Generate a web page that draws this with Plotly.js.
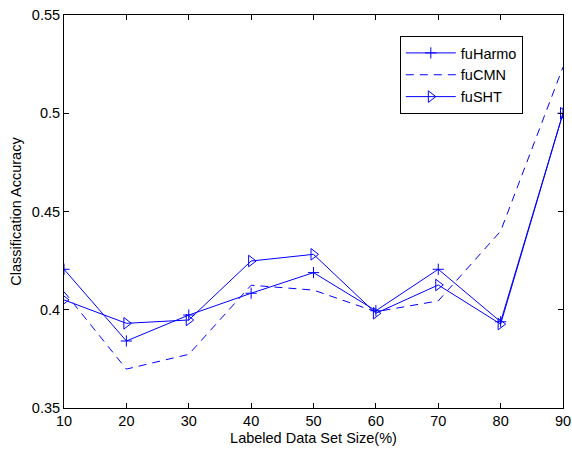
<!DOCTYPE html>
<html><head><meta charset="utf-8">
<script src="https://cdn.plot.ly/plotly-3.0.1.min.js"></script>
<style>html,body{margin:0;padding:0;background:#fff}</style>
</head><body>
<div id="chart" style="width:572px;height:450px"></div>
<script>
const xValues = [10, 20, 30, 40, 50, 60, 70, 80, 90];
const fuHarmo = [0.4206, 0.3841, 0.3973, 0.4084, 0.4189, 0.3995, 0.4206, 0.3939, 0.5000];
const fuCMN   = [0.4092, 0.3698, 0.3773, 0.4125, 0.4100, 0.3990, 0.4045, 0.4400, 0.5235];
const fuSHT   = [0.4050, 0.3931, 0.3948, 0.4248, 0.4282, 0.3982, 0.4126, 0.3927, 0.5000];
const xTicks = [10, 20, 30, 40, 50, 60, 70, 80, 90];
const yTicks = [0.35, 0.4, 0.45, 0.5, 0.55];
const yTickLabels = ['0.35', '0.4', '0.45', '0.5', '0.55'];

const blue = '#0000ff';
const font = {family: 'Liberation Sans, Arial, sans-serif', size: 14.5, color: '#000'};

const traces = [
  {x: xValues, y: fuHarmo, name: 'fuHarmo', mode: 'lines+markers',
   line: {color: blue, width: 1},
   marker: {symbol: 'cross-thin-open', size: 8, color: blue, line: {color: blue, width: 1}}},
  {x: xValues, y: fuCMN, name: 'fuCMN', mode: 'lines',
   line: {color: blue, width: 1, dash: '8px,6px'}},
  {x: xValues, y: fuSHT, name: 'fuSHT', mode: 'lines+markers',
   line: {color: blue, width: 1},
   marker: {symbol: 'triangle-right-open', size: 10, color: blue, line: {color: blue, width: 1}}}
];

const axisCommon = {
  showgrid: false, zeroline: false, showline: true, linecolor: '#000', linewidth: 1,
  mirror: 'ticks', ticks: 'inside', ticklen: 5, tickcolor: '#000', tickwidth: 1,
  tickfont: font
};

const layout = {
  width: 572, height: 450,
  margin: {l: 64, r: 9, t: 15, b: 42},
  paper_bgcolor: '#fff', plot_bgcolor: '#fff',
  font: font,
  showlegend: true,
  legend: {x: 0.673, y: 0.9466, xanchor: 'left', yanchor: 'top',
           bordercolor: '#000', borderwidth: 1, bgcolor: '#fff',
           font: font, itemwidth: 50, tracegroupgap: 0},
  xaxis: Object.assign({}, axisCommon, {
    range: [10, 90], tickvals: xTicks, ticktext: xTicks.map(String),
    title: {text: 'Labeled Data Set Size(%)', font: font, standoff: 4}
  }),
  yaxis: Object.assign({}, axisCommon, {
    range: [0.35, 0.55], tickvals: yTicks, ticktext: yTickLabels,
    title: {text: 'Classification Accuracy', font: font, standoff: 6}
  })
};

Plotly.newPlot('chart', traces, layout, {displayModeBar: false, staticPlot: true});
</script>
</body></html>
